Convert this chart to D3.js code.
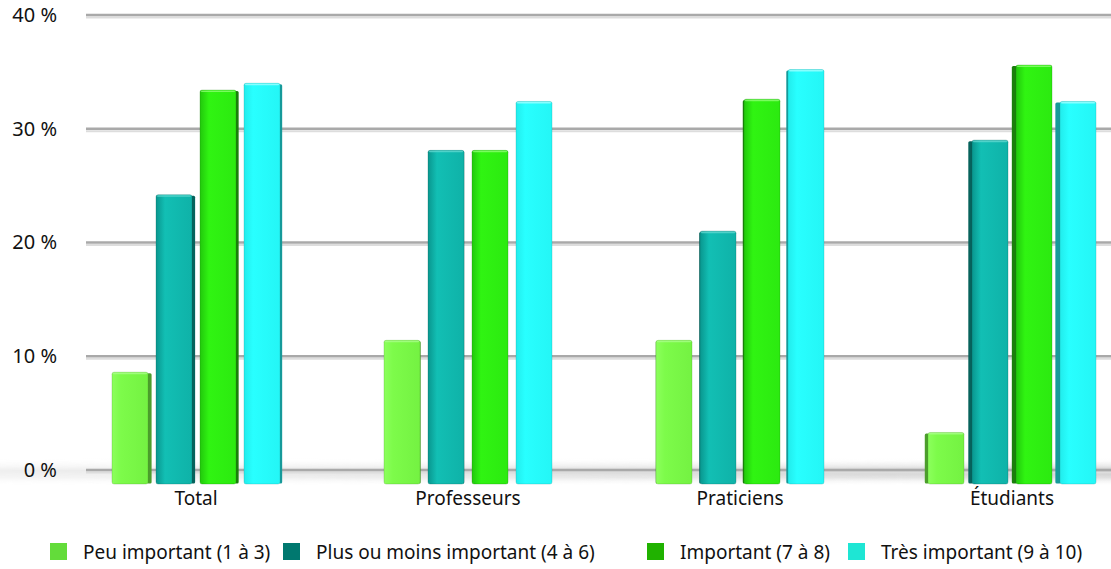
<!DOCTYPE html>
<html>
<head>
<meta charset="utf-8">
<script src="https://cdn.jsdelivr.net/npm/d3@7"></script>
<style>
  html, body { margin: 0; padding: 0; background: #fff; }
  svg { display: block; }
  text { font-family: "Noto Sans", Lato, sans-serif; fill: #111; }
</style>
</head>
<body>
<svg id="chart" width="1111" height="569"></svg>
<script>
// Survey groups and importance levels
const categories = ["Total", "Professeurs", "Praticiens", "Étudiants"];
const seriesNames = [
  "Peu important (1 à 3)",
  "Plus ou moins important (4 à 6)",
  "Important (7 à 8)",
  "Très important (9 à 10)"
];
// Share of answers (%) per group, one array per importance level
const peuImportant   = [8.6, 11.4, 11.4, 3.3];
const plusOuMoins    = [24.2, 28.1, 21.0, 29.0];
const important      = [33.4, 28.1, 32.6, 35.6];
const tresImportant  = [34.0, 32.4, 35.2, 32.4];
const seriesValues = [peuImportant, plusOuMoins, important, tresImportant];
const yTicks = [0, 10, 20, 30, 40];

// Face colours for each level: legend swatch, front face stops, side face
const palette = [
  { swatch: "#63dc3a", front: ["#8cff5c", "#7dfb4a", "#74f242"], side: "#4c9e2c", cap: "#a8ff88" },
  { swatch: "#00786f", front: ["#09968e", "#12bfb4", "#0fb2a8"], side: "#06625c", cap: "#5fd8d0" },
  { swatch: "#20b200", front: ["#22c80c", "#30f412", "#2cea10"], side: "#1b7f0c", cap: "#8cff70" },
  { swatch: "#1ee6d4", front: ["#22ecec", "#28ffff", "#24f6f6"], side: "#169a9a", cap: "#a0ffff" }
];

const svg = d3.select("#chart");
const W = 1111;

const y = d3.scaleLinear().domain([0, 40]).range([470, 15]);
const floorY = y(0) + 14;

const x0 = d3.scaleBand().domain(categories).range([60, 1148]);
const x1 = d3.scaleBand().domain(d3.range(seriesNames.length)).range([0, 168]).paddingInner(8 / 44);

const defs = svg.append("defs");

// Floor band shading
const floorGrad = defs.append("linearGradient").attr("id", "floorGrad")
  .attr("x1", 0).attr("y1", 0).attr("x2", 0).attr("y2", 1);
floorGrad.append("stop").attr("offset", "0%").attr("stop-color", "#ffffff").attr("stop-opacity", 0);
floorGrad.append("stop").attr("offset", "45%").attr("stop-color", "#c4c4c4").attr("stop-opacity", 0.95);
floorGrad.append("stop").attr("offset", "70%").attr("stop-color", "#d4d4d4").attr("stop-opacity", 0.75);
floorGrad.append("stop").attr("offset", "100%").attr("stop-color", "#ffffff").attr("stop-opacity", 0);

const floorFade = defs.append("linearGradient").attr("id", "floorFade")
  .attr("x1", 0).attr("y1", 0).attr("x2", 1).attr("y2", 0);
floorFade.append("stop").attr("offset", "0%").attr("stop-color", "#fff").attr("stop-opacity", 0.3);
floorFade.append("stop").attr("offset", "100%").attr("stop-color", "#fff").attr("stop-opacity", 1);
const floorMask = defs.append("mask").attr("id", "floorMask");
floorMask.append("rect").attr("x", 0).attr("y", 0).attr("width", W).attr("height", 569).attr("fill", "url(#floorFade)");

svg.append("rect")
  .attr("x", 0).attr("y", y(0) - 12)
  .attr("width", W).attr("height", 28)
  .attr("fill", "url(#floorGrad)")
  .attr("mask", "url(#floorMask)");

// Gridlines with a soft shadow underneath
const grid = svg.append("g");
yTicks.forEach(t => {
  grid.append("line")
    .attr("x1", 86).attr("x2", W)
    .attr("y1", y(t) + 2.5).attr("y2", y(t) + 2.5)
    .attr("stroke", "#dddddd").attr("stroke-width", 2);
  grid.append("line")
    .attr("x1", 86).attr("x2", W)
    .attr("y1", y(t)).attr("y2", y(t))
    .attr("stroke", "#a9a9a9").attr("stroke-width", 2.5);
});

// Y axis labels
const yAxis = d3.axisLeft(y).tickValues(yTicks).tickFormat(d => d + " %").tickSize(0).tickPadding(0);
const yg = svg.append("g").attr("transform", "translate(57,0)").call(yAxis);
yg.select(".domain").remove();
yg.selectAll("text")
  .attr("font-family", "'Noto Sans', Lato, sans-serif")
  .attr("font-size", 20).attr("fill", "#111");

// Front face gradients
palette.forEach((p, i) => {
  const g = defs.append("linearGradient").attr("id", "front" + i)
    .attr("x1", 0).attr("y1", 0).attr("x2", 1).attr("y2", 0);
  g.append("stop").attr("offset", "0%").attr("stop-color", p.front[0]);
  g.append("stop").attr("offset", "25%").attr("stop-color", p.front[1]);
  g.append("stop").attr("offset", "100%").attr("stop-color", p.front[2]);
});

// Bars
const bars = [];
categories.forEach((c, ci) => {
  seriesValues.forEach((vals, si) => {
    bars.push({ cat: c, ci, si, value: vals[ci] });
  });
});

const mid = W / 2;
const barG = svg.append("g");
bars.forEach(d => {
  const bx = x0(d.cat) + (x0.bandwidth() - 168) / 2 + x1(d.si);
  const bw = x1.bandwidth();
  const top = y(d.value);
  const cx = bx + bw / 2;
  // side face width grows with distance from the centre of view
  const s = Math.abs(cx - mid) / mid * 6;
  const sideOnRight = cx < mid;
  const p = palette[d.si];
  const g = barG.append("g");

  if (s > 0.6) {
    const sx = sideOnRight ? bx + bw - 1 : bx - s + 1;
    g.append("rect")
      .attr("x", sx).attr("y", top + 1)
      .attr("width", s).attr("height", floorY - top - 1.5)
      .attr("rx", 1.5)
      .attr("fill", p.side);
  }
  g.append("rect")
    .attr("x", bx).attr("y", top)
    .attr("width", bw).attr("height", floorY - top)
    .attr("rx", 2)
    .attr("fill", "url(#front" + d.si + ")")
    .attr("stroke", d3.color(p.side).copy({ opacity: 0.35 }))
    .attr("stroke-width", 0.8);
  g.append("rect")
    .attr("x", bx + 1).attr("y", top + 0.5)
    .attr("width", bw - 2).attr("height", 1.5)
    .attr("rx", 0.75)
    .attr("fill", p.cap).attr("opacity", 0.8);
});

// Category labels
const xAxis = d3.axisBottom(x0).tickSize(0).tickPadding(0);
const xg = svg.append("g").attr("transform", "translate(0," + (floorY + 7) + ")").call(xAxis);
xg.select(".domain").remove();
xg.selectAll("text")
  .attr("font-family", "'Noto Sans', Lato, sans-serif")
  .attr("font-size", 19).attr("fill", "#111");

// Legend
const legendX = [50, 283, 647, 848];
const legend = svg.append("g");
seriesNames.forEach((name, i) => {
  legend.append("rect")
    .attr("x", legendX[i]).attr("y", 543)
    .attr("width", 17).attr("height", 17)
    .attr("fill", palette[i].swatch);
  legend.append("text")
    .attr("x", legendX[i] + 33).attr("y", 552)
    .attr("dy", "0.35em")
    .attr("font-size", 19)
    .text(name);
});
</script>
</body>
</html>
